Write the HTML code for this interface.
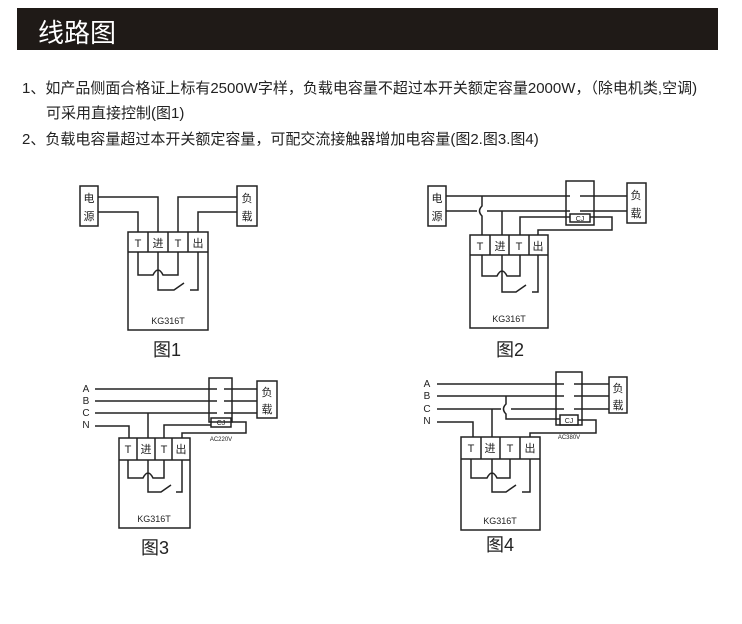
<!DOCTYPE html>
<html><head><meta charset="utf-8"><style>
body{margin:0;width:742px;height:624px;background:#fff;overflow:hidden;font-family:"Liberation Sans","Noto Sans CJK SC",sans-serif;}
.bar{position:absolute;left:17px;top:8px;width:701px;height:42px;background:#1f1a17;}
.bar span{position:absolute;left:21px;top:5px;color:#fff;font-size:26px;}
.t{position:absolute;font-size:15px;color:#222;white-space:nowrap;}
svg{position:absolute;left:0;top:0;}
</style></head><body>
<div class="bar"><span>线路图</span></div>
<div class="t" style="left:22px;top:77px">1、如产品侧面合格证上标有2500W字样，负载电容量不超过本开关额定容量2000W，（除电机类,空调)</div>
<div class="t" style="left:46px;top:102px">可采用直接控制(图1)</div>
<div class="t" style="left:22px;top:128px">2、负载电容量超过本开关额定容量，可配交流接触器增加电容量(图2.图3.图4)</div>
<svg width="742" height="624" font-family="Liberation Sans,Noto Sans CJK SC,sans-serif" fill="none" stroke="#222" stroke-width="1.5">
<!-- Fig1 -->
<rect x="80" y="186" width="18" height="40"/><rect x="237" y="186" width="20" height="40"/>
<rect x="128" y="232" width="80" height="98"/><path d="M128 252H208M148 232V252M168 232V252M188 232V252"/>
<path d="M98 197H158V232M98 212H138V232M237 197H178V232M237 212H198V232"/>
<path d="M138 252V275H153Q158 265 163 275H178V252M158 252V290H174L184 283M190 290H198V252"/>
<!-- Fig2 -->
<rect x="428" y="186" width="18" height="40"/><rect x="627" y="183" width="19" height="40"/>
<rect x="566" y="181" width="28" height="44"/><rect x="570" y="214" width="20" height="8"/>
<rect x="470" y="235" width="78" height="93"/><path d="M470 255H548M490 235V255M509 235V255M529 235V255"/>
<path d="M446 196H570M446 211H477M487 211H570M580 196H627M580 211H627M482 235V216Q477 211 482 206V196M502 235V211M520 235V217H570M538 235V230H612V217H590"/>
<path d="M482 255V276H497Q502 266 507 276H520V255M502 255V292H516L526 285M532 292H538V255"/>
<!-- Fig3 -->
<rect x="209" y="378" width="23" height="44"/><rect x="211" y="418" width="20" height="9"/><rect x="257" y="381" width="20" height="37"/>
<path d="M95 389H217M95 401H217M95 413H217M224 389H257M224 401H257M224 413H257M95 426H129V438M148 413V438M164 438V425H211M182 438V433H246V422H231"/>
<rect x="119" y="438" width="71" height="90"/><path d="M119 460H190M137 438V460M155 438V460M172 438V460"/>
<path d="M128 460V478H143Q148 468 153 478H164V460M148 460V492H161L171 485M176 492H182V460"/>
<!-- Fig4 -->
<rect x="556" y="372" width="26" height="53"/><rect x="560" y="415" width="18" height="10"/><rect x="609" y="377" width="18" height="36"/>
<path d="M437 384H564M437 396H564M437 409H501M511 409H564M574 384H609M574 396H609M574 409H609M437 422H473V437M492 409V437M578 420H596V433H530V437M560 419H506V414Q501 409 506 404V396"/>
<rect x="461" y="437" width="79" height="93"/><path d="M461 459H540M481 437V459M500 437V459M520 437V459"/>
<path d="M471 459V478H487Q492 468 497 478H510V459M492 459V492H506L516 485M522 492H530V459"/>
<g fill="#222" stroke="none" font-size="11" text-anchor="middle">
<text x="89" y="202">电</text><text x="89" y="220">源</text><text x="247" y="202">负</text><text x="247" y="220">载</text>
<text x="138" y="247">T</text><text x="158" y="247">进</text><text x="178" y="247">T</text><text x="198" y="247">出</text>
<text x="168" y="324" font-size="9">KG316T</text><text x="167" y="356" font-size="18">图1</text>
<text x="437" y="202">电</text><text x="437" y="220">源</text><text x="636" y="199">负</text><text x="636" y="217">载</text>
<text x="480" y="250">T</text><text x="500" y="250">进</text><text x="519" y="250">T</text><text x="538" y="250">出</text>
<text x="580" y="221" font-size="7">CJ</text>
<text x="509" y="322" font-size="9">KG316T</text><text x="510" y="356" font-size="18">图2</text>
<text x="86" y="392" font-size="10">A</text><text x="86" y="404" font-size="10">B</text><text x="86" y="416" font-size="10">C</text><text x="86" y="428" font-size="10">N</text>
<text x="267" y="396">负</text><text x="267" y="413">载</text><text x="221" y="425" font-size="7">CJ</text><text x="221" y="441" font-size="6">AC220V</text>
<text x="128" y="453">T</text><text x="146" y="453">进</text><text x="164" y="453">T</text><text x="181" y="453">出</text>
<text x="154" y="522" font-size="9">KG316T</text><text x="155" y="554" font-size="18">图3</text>
<text x="427" y="387" font-size="10">A</text><text x="427" y="399" font-size="10">B</text><text x="427" y="412" font-size="10">C</text><text x="427" y="424" font-size="10">N</text>
<text x="618" y="392">负</text><text x="618" y="409">载</text><text x="569" y="423" font-size="7">CJ</text><text x="569" y="439" font-size="6">AC380V</text>
<text x="471" y="452">T</text><text x="490" y="452">进</text><text x="510" y="452">T</text><text x="530" y="452">出</text>
<text x="500" y="524" font-size="9">KG316T</text><text x="500" y="551" font-size="18">图4</text>
</g>
</svg>
</body></html>
